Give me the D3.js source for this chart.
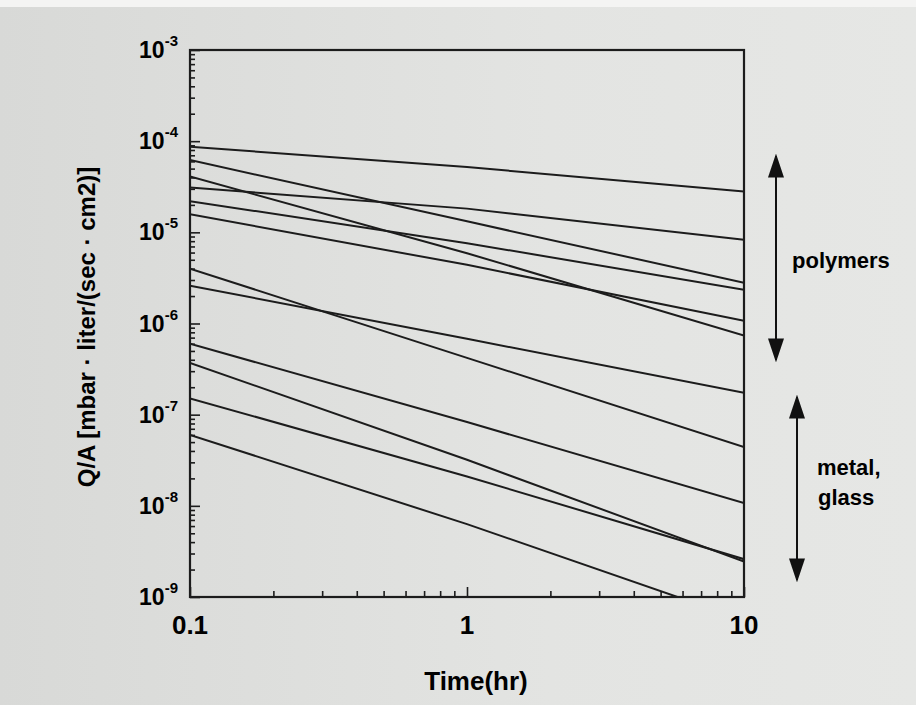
<!DOCTYPE html>
<html lang="en">
<head>
<meta charset="UTF-8">
<title>Outgassing rate vs time</title>
<style>
    body {
        margin: 0;
        background: #e2e3e1;
    }
    svg {
        display: block;
        font-family: "Liberation Sans", Arial, sans-serif;
        font-weight: bold;
    }
    .curve {
        fill: none;
        stroke: #1c1c1c;
        stroke-width: 2;
    }
    .frame {
        fill: none;
        stroke: #1c1c1c;
        stroke-width: 2.2;
    }
    .axis path { display: none; }
    .axis line { stroke: #1c1c1c; stroke-width: 1.6; }
</style>
</head>
<body>
<svg id="chart" width="916" height="705"></svg>

<script src="https://d3js.org/d3.v7.min.js"></script>
<script>
    const times = [0.1, 1, 10];

    // polymer curves, Q/A at t = 0.1, 1, 10 hr
    const polymerCurves = [
        [8.7e-5, 5.2e-5, 2.8e-5],
        [6.2e-5, 1.32e-5, 2.8e-6],
        [4.1e-5, 5.9e-6, 7.4e-7],
        [3.1e-5, 1.82e-5, 8.3e-6],
        [2.2e-5, 7.6e-6, 2.35e-6],
        [1.58e-5, 4.4e-6, 1.07e-6]
    ];

    // metal / glass curves
    const metalCurves = [
        [4.0e-6, 4.2e-7, 4.4e-8],
        [2.6e-6, 6.8e-7, 1.74e-7],
        [6.0e-7, 8.3e-8, 1.07e-8],
        [3.7e-7, 3.2e-8, 2.45e-9],
        [1.51e-7, 2.1e-8, 2.6e-9],
        [6.0e-8, 6.3e-9, 5.6e-10]
    ];

    const yTickExps = [-3, -4, -5, -6, -7, -8, -9];
    const xTickVals = [0.1, 1, 10];
    const xTickLabels = ["0.1", "1", "10"];

    const plotL = 190, plotR = 744, plotT = 50, plotB = 597;

    const svg = d3.select("#chart");

    // paper look: slightly darker on the left, white strip at the very top
    const defs = svg.append("defs");
    const grad = defs.append("linearGradient").attr("id", "paper");
    grad.append("stop").attr("offset", "0%").attr("stop-color", "#d8d9d7");
    grad.append("stop").attr("offset", "60%").attr("stop-color", "#e3e4e2");
    grad.append("stop").attr("offset", "100%").attr("stop-color", "#e6e7e5");
    svg.append("rect").attr("width", 916).attr("height", 705).attr("fill", "url(#paper)");
    svg.append("rect").attr("width", 916).attr("height", 7).attr("fill", "#f4f4f3");

    defs.append("clipPath").attr("id", "plotclip")
        .append("rect")
        .attr("x", plotL).attr("y", plotT)
        .attr("width", plotR - plotL).attr("height", plotB - plotT);

    // arrow head: 24 long, 16 wide
    const marker = defs.append("marker")
        .attr("id", "head")
        .attr("viewBox", "0 0 10 10")
        .attr("refX", 9).attr("refY", 5)
        .attr("markerWidth", 24).attr("markerHeight", 16)
        .attr("markerUnits", "userSpaceOnUse")
        .attr("preserveAspectRatio", "none")
        .attr("orient", "auto-start-reverse");
    marker.append("path").attr("d", "M0,0 L10,5 L0,10 Z").attr("fill", "#111");

    const x = d3.scaleLog().domain([0.1, 10]).range([plotL, plotR]);
    const y = d3.scaleLog().domain([1e-9, 1e-3]).range([plotB, plotT]);

    const isMajor = v => Math.abs(Math.log10(v) - Math.round(Math.log10(v))) < 1e-6;

    // ticks point inwards, only on bottom and left
    const yAxis = svg.append("g")
        .attr("class", "axis")
        .attr("transform", `translate(${plotL},0)`)
        .call(d3.axisRight(y).tickSize(5).tickFormat(""));
    yAxis.selectAll(".tick line").filter(d => isMajor(d)).attr("x2", 10);

    const xAxis = svg.append("g")
        .attr("class", "axis")
        .attr("transform", `translate(0,${plotB})`)
        .call(d3.axisTop(x).tickSize(6).tickFormat(""));
    xAxis.selectAll(".tick line").filter(d => isMajor(d)).attr("y2", -10);

    // curves
    const line = d3.line()
        .x((d, i) => x(times[i]))
        .y(d => y(d));

    svg.append("g")
        .attr("clip-path", "url(#plotclip)")
        .selectAll("path")
        .data(polymerCurves.concat(metalCurves))
        .join("path")
        .attr("class", "curve")
        .attr("d", line);

    svg.append("rect")
        .attr("class", "frame")
        .attr("x", plotL).attr("y", plotT)
        .attr("width", plotR - plotL).attr("height", plotB - plotT);

    // y tick labels 10^n
    const yLab = svg.append("g").selectAll("text")
        .data(yTickExps)
        .join("text")
        .attr("x", plotL - 12)
        .attr("y", d => y(Math.pow(10, d)) + 8)
        .attr("text-anchor", "end")
        .attr("font-size", 23);
    yLab.append("tspan").text("10");
    yLab.append("tspan")
        .attr("font-size", 15)
        .attr("dy", -12)
        .text(d => d);

    svg.append("g").selectAll("text")
        .data(xTickVals)
        .join("text")
        .attr("x", d => x(d))
        .attr("y", plotB + 37)
        .attr("text-anchor", "middle")
        .attr("font-size", 26)
        .text((d, i) => xTickLabels[i]);

    svg.append("text")
        .attr("x", 476).attr("y", 690)
        .attr("text-anchor", "middle")
        .attr("font-size", 26)
        .text("Time(hr)");

    svg.append("text")
        .attr("transform", "translate(95,327) rotate(-90)")
        .attr("text-anchor", "middle")
        .attr("font-size", 24)
        .text("Q/A [mbar · liter/(sec · cm2)]");

    // group annotations
    svg.append("line")
        .attr("x1", 776).attr("y1", 156).attr("x2", 776).attr("y2", 360)
        .attr("stroke", "#111").attr("stroke-width", 2)
        .attr("marker-start", "url(#head)")
        .attr("marker-end", "url(#head)");
    svg.append("text")
        .attr("x", 792).attr("y", 268)
        .attr("font-size", 22)
        .text("polymers");

    svg.append("line")
        .attr("x1", 797).attr("y1", 397).attr("x2", 797).attr("y2", 580)
        .attr("stroke", "#111").attr("stroke-width", 2)
        .attr("marker-start", "url(#head)")
        .attr("marker-end", "url(#head)");
    svg.append("text")
        .attr("x", 817).attr("y", 475)
        .attr("font-size", 22)
        .text("metal,");
    svg.append("text")
        .attr("x", 818).attr("y", 505)
        .attr("font-size", 22)
        .text("glass");
</script>
</body>
</html>
